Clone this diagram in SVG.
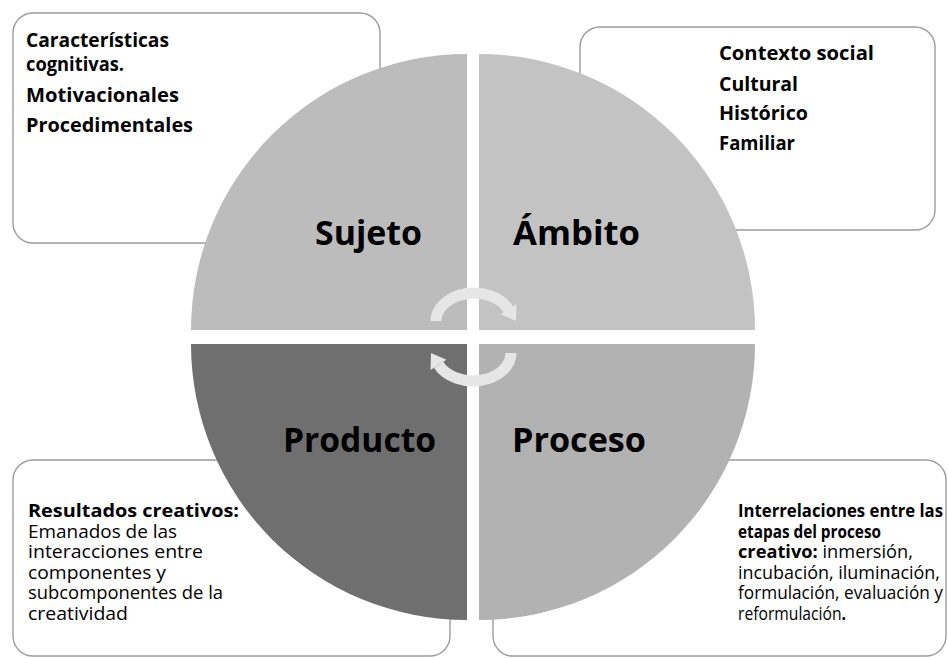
<svg xmlns="http://www.w3.org/2000/svg" width="948" height="658" viewBox="0 0 948 658">
<style>
.box{fill:#fff;stroke:#9c9c9c;stroke-width:1.4}
.t{font-family:"Open Sans","Noto Sans","Liberation Sans",sans-serif;font-size:19px;fill:#000}
.s{font-size:18.5px}
.b{font-weight:700}
.lbl{font-family:"Open Sans","Noto Sans","Liberation Sans",sans-serif;font-size:34px;font-weight:700;fill:#000}
.arc{fill:none;stroke:#e6e6e6;stroke-width:11}
.head{fill:#e6e6e6}
</style>
<rect width="948" height="658" fill="#fff"/>
<g id="box-sujeto">
<rect class="box" x="13" y="13" width="367" height="230" rx="20"/>
<text class="t b" x="26" y="47" textLength="143" lengthAdjust="spacingAndGlyphs">Características</text>
<text class="t b" x="26" y="71" textLength="98" lengthAdjust="spacingAndGlyphs">cognitivas.</text>
<text class="t b" x="26" y="102" textLength="153" lengthAdjust="spacingAndGlyphs">Motivacionales</text>
<text class="t b" x="26" y="132" textLength="167" lengthAdjust="spacingAndGlyphs">Procedimentales</text>
</g>
<g id="box-ambito">
<rect class="box" x="580" y="27" width="355" height="203" rx="20"/>
<text class="t b" x="719" y="60" textLength="155" lengthAdjust="spacingAndGlyphs">Contexto social</text>
<text class="t b" x="719" y="91" textLength="79" lengthAdjust="spacingAndGlyphs">Cultural</text>
<text class="t b" x="719" y="119.5" textLength="89" lengthAdjust="spacingAndGlyphs">Histórico</text>
<text class="t b" x="719" y="150" textLength="76" lengthAdjust="spacingAndGlyphs">Familiar</text>
</g>
<g id="box-producto">
<rect class="box" x="13" y="460" width="437" height="196" rx="20"/>
<text class="t s b" x="28" y="517" textLength="211" lengthAdjust="spacingAndGlyphs">Resultados creativos:</text>
<text class="t s" x="28" y="537.5" textLength="149" lengthAdjust="spacingAndGlyphs">Emanados de las</text>
<text class="t s" x="28" y="558" textLength="175" lengthAdjust="spacingAndGlyphs">interacciones entre</text>
<text class="t s" x="28" y="578.5" textLength="138" lengthAdjust="spacingAndGlyphs">componentes y</text>
<text class="t s" x="28" y="599" textLength="195" lengthAdjust="spacingAndGlyphs">subcomponentes de la</text>
<text class="t s" x="28" y="619.5" textLength="100" lengthAdjust="spacingAndGlyphs">creatividad</text>
</g>
<g id="box-proceso">
<rect class="box" x="493" y="460" width="453" height="196" rx="20"/>
<text class="t s b" x="738" y="517" textLength="205" lengthAdjust="spacingAndGlyphs">Interrelaciones entre las</text>
<text class="t s b" x="738" y="537.5" textLength="143" lengthAdjust="spacingAndGlyphs">etapas del proceso</text>
<text class="t s" x="738" y="558" textLength="175" lengthAdjust="spacingAndGlyphs"><tspan class="b">creativo:</tspan> inmersión,</text>
<text class="t s" x="738" y="578.5" textLength="202" lengthAdjust="spacingAndGlyphs">incubación, iluminación,</text>
<text class="t s" x="738" y="599" textLength="205" lengthAdjust="spacingAndGlyphs">formulación, evaluación y</text>
<text class="t s" x="738" y="619.5" textLength="108" lengthAdjust="spacingAndGlyphs">reformulación<tspan class="b">.</tspan></text>
</g>
<g id="sujeto">
<path d="M467,330 L191,330 A276,276 0 0 1 467,54 Z" fill="#bcbcbc"/>
<text class="lbl" x="315" y="245" textLength="107" lengthAdjust="spacingAndGlyphs">Sujeto</text>
</g>
<g id="ambito">
<path d="M479,330 L479,54 A276,276 0 0 1 755,330 Z" fill="#c3c3c3"/>
<text class="lbl" x="513" y="245" textLength="127" lengthAdjust="spacingAndGlyphs">Ámbito</text>
</g>
<g id="producto">
<path d="M467,344 L467,620 A276,276 0 0 1 191,344 Z" fill="#6f6f6f"/>
<text class="lbl" x="283" y="452" textLength="153" lengthAdjust="spacingAndGlyphs">Producto</text>
</g>
<g id="proceso">
<path d="M479,344 L755,344 A276,276 0 0 1 479,620 Z" fill="#b2b2b2"/>
<text class="lbl" x="512" y="452" textLength="134" lengthAdjust="spacingAndGlyphs">Proceso</text>
</g>
<g id="connectors">
<g id="arrow-top">
<path class="arc" d="M436,321 A38,28 0 0 1 508.4,309.2"/>
<polygon class="head" points="516.5,304 500.5,314.2 516,321"/>
</g>
<g id="arrow-bottom" transform="rotate(180 473.5 337)">
<path class="arc" d="M436,321 A38,28 0 0 1 508.4,309.2"/>
<polygon class="head" points="516.5,304 500.5,314.2 516,321"/>
</g>
</g>
</svg>
